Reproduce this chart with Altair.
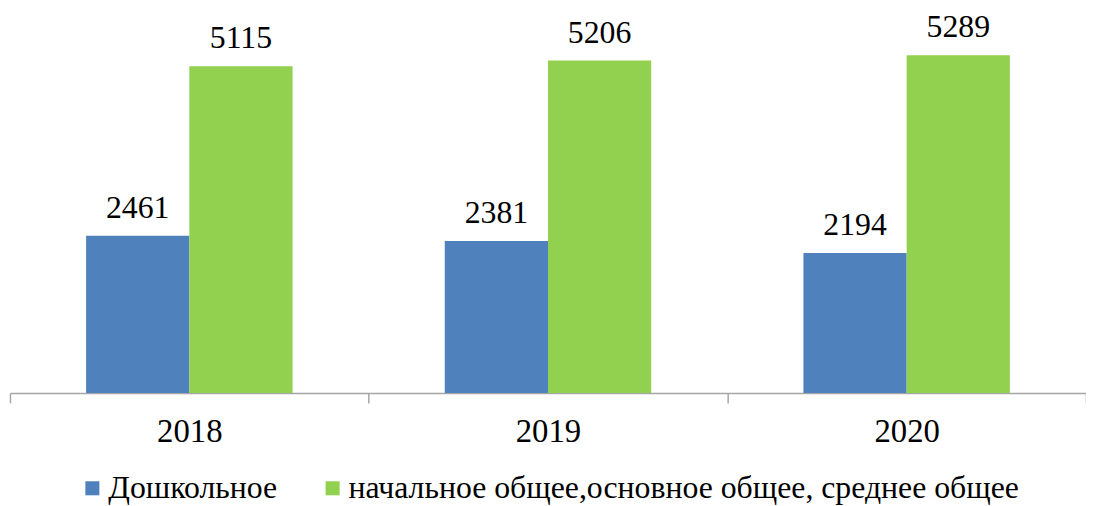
import altair as alt
import pandas as pd

years = ["2018", "2019", "2020"]
series = ["Дошкольное", "начальное общее,основное общее, среднее общее"]
preschool = [2461, 2381, 2194]
general = [5115, 5206, 5289]
colors = ["#4F81BD", "#92D050"]

rows = []
for i, y in enumerate(years):
    rows.append({"year": y, "series": series[0], "value": preschool[i]})
    rows.append({"year": y, "series": series[1], "value": general[i]})
df = pd.DataFrame(rows)

FONT = "Liberation Serif"
W = 1084
po = (W / 3 / 104 - 2) / 2

x_enc = alt.X(
    "year:N",
    title=None,
    sort=years,
    scale=alt.Scale(paddingInner=0, paddingOuter=0),
    axis=alt.Axis(
        labelAngle=0,
        tickBand="extent",
        tickSize=10,
        tickColor="#A6A6A6",
        tickWidth=1.5,
        domainColor="#A6A6A6",
        domainWidth=1.5,
        labelFont=FONT,
        labelFontSize=33,
        labelColor="#000000",
        labelPadding=39,
        labelBaseline="alphabetic",
    ),
)
xoff = alt.XOffset("series:N", sort=series, scale=alt.Scale(paddingInner=0, paddingOuter=po))
y_enc = alt.Y("value:Q", scale=alt.Scale(domain=[0, 6000]), axis=None)

bars = alt.Chart(df).mark_bar().encode(
    x=x_enc,
    xOffset=xoff,
    y=y_enc,
    color=alt.Color(
        "series:N",
        sort=series,
        scale=alt.Scale(domain=series, range=colors),
        legend=alt.Legend(
            title=None,
            orient="none",
            direction="horizontal",
            legendX=67,
            legendY=466,
            symbolType="square",
            symbolSize=200,
            symbolStrokeWidth=0,
            symbolOpacity=1,
            labelFont=FONT,
            labelFontSize=32,
            labelColor="#000000",
            labelLimit=1000,
            columnPadding=39,
            labelOffset=0,
            padding=0,
        ),
    ),
)

labels = alt.Chart(df).mark_text(
    baseline="alphabetic",
    dy=-18,
    font=FONT,
    fontSize=32,
    color="#000000",
).encode(
    x=x_enc,
    xOffset=xoff,
    y=y_enc,
    text=alt.Text("value:Q", format="d"),
)

chart = (
    alt.layer(bars, labels)
    .properties(
        width=W,
        height=386,
        autosize=alt.AutoSizeParams(type="none"),
        padding={"left": 2, "top": 0, "right": 0, "bottom": 112},
    )
    .configure_view(stroke=None)
)

chart.save("out.html", embed_options={"renderer": "svg", "actions": False})
